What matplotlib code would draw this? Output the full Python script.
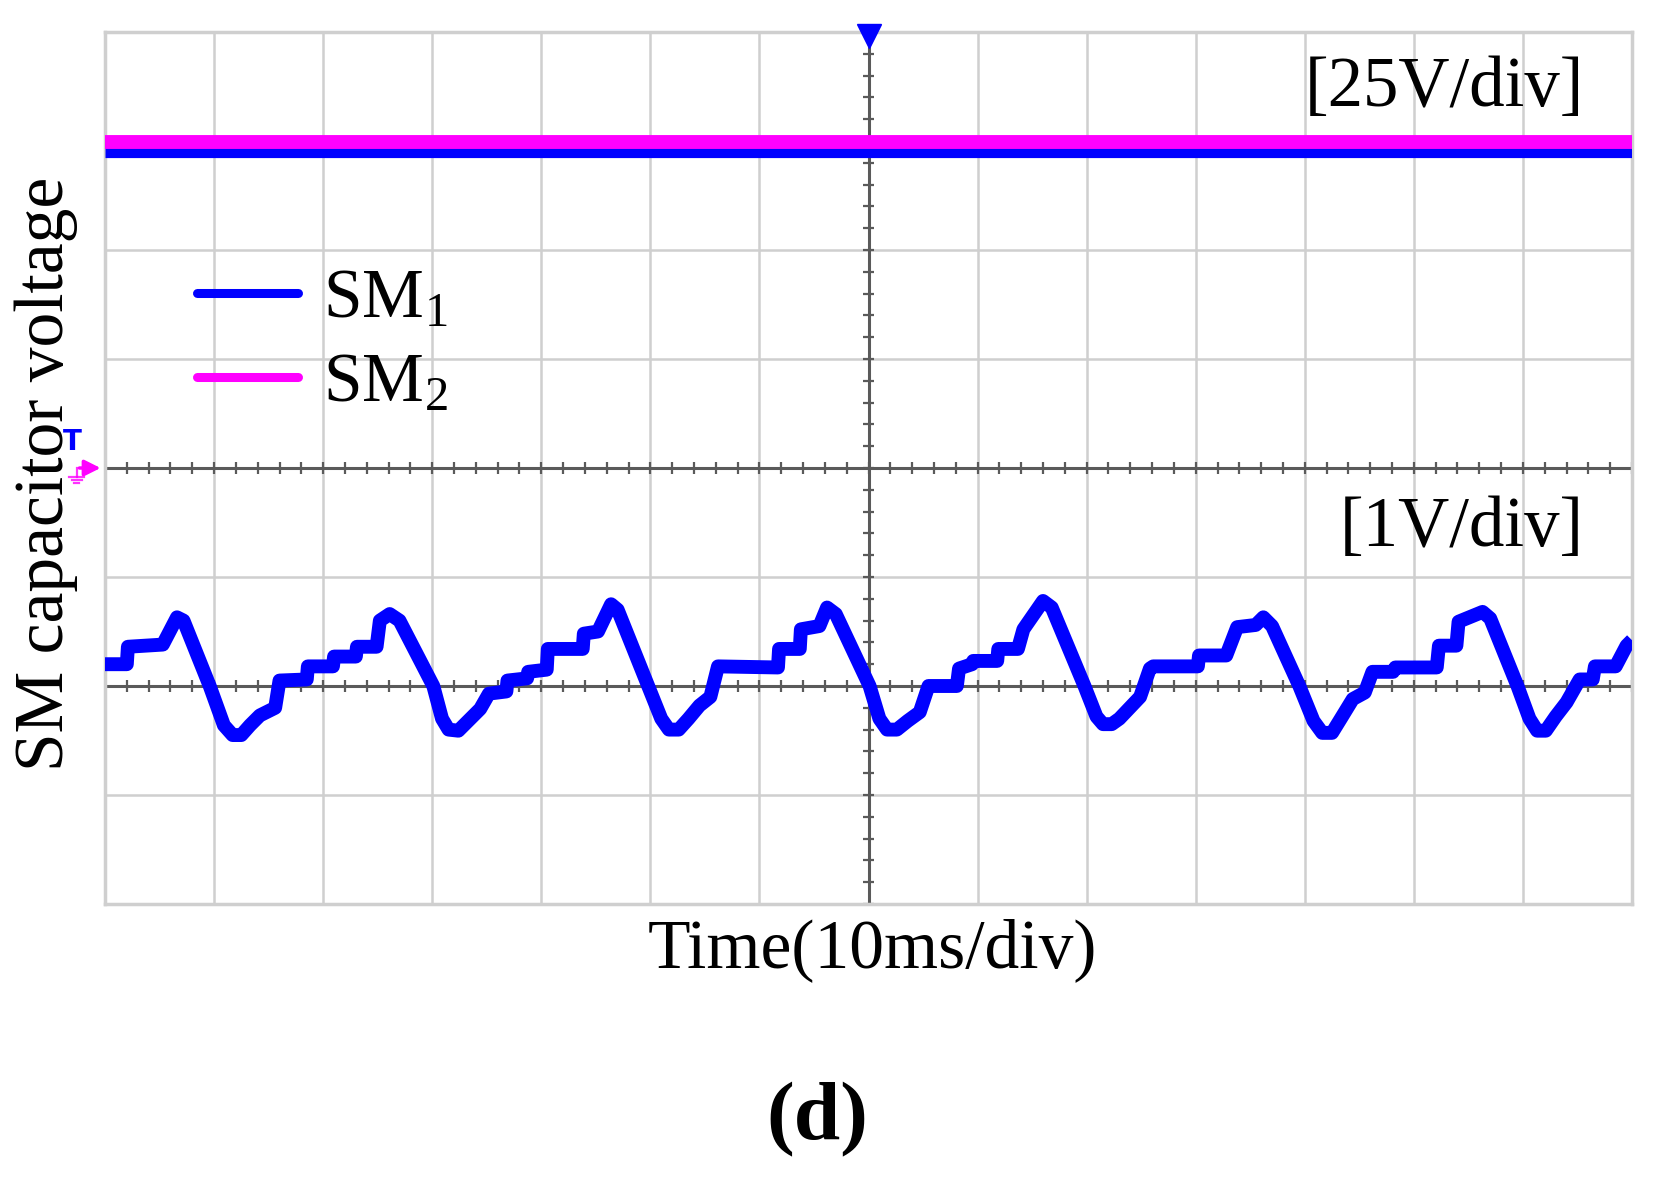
import numpy as np
import matplotlib
matplotlib.use("Agg")
import matplotlib.pyplot as plt
from matplotlib.lines import Line2D

plt.rcParams['font.family'] = ['Liberation Serif', 'DejaVu Serif']
plt.rcParams['mathtext.fontset'] = 'stix'

# scope settings
n_xdiv = 14
n_ydiv = 8
ms_per_div = 10

# upper channel (25V/div): both capacitor voltages sit flat, position in divisions
upper_t = [0, 140]
sm1_upper = [6.91, 6.91]
sm2_upper = [6.99, 6.99]

# lower channel (1V/div), SM1 ripple, volts relative to its zero line (at div 2)
lower_zero = 2
sm1_t = [0.0, 2.0, 2.1, 5.3, 6.6, 7.2, 9.6, 10.9, 11.7, 12.5, 13.3, 14.2, 15.6, 16.0,
         18.5, 18.6, 20.9, 21.0, 23.0, 23.1, 24.9, 25.2, 26.1, 27.0, 30.1, 30.9, 31.5,
         32.4, 33.3, 34.4, 35.2, 36.8, 36.9, 38.7, 38.8, 40.5, 40.6, 43.8, 43.9, 45.2,
         46.4, 47.0, 49.8, 51.0, 51.7, 52.6, 53.5, 54.5, 55.5, 56.2, 61.7, 61.8, 63.7,
         63.8, 65.5, 66.2, 67.0, 70.1, 71.0, 71.7, 72.6, 73.6, 74.7, 75.5, 78.1, 78.3,
         79.5, 79.6, 81.8, 81.9, 83.7, 84.2, 86.0, 86.8, 89.8, 90.9, 91.5, 92.3, 93.0,
         94.9, 95.8, 96.1, 100.2, 100.3, 102.8, 103.8, 105.5, 106.2, 107.0, 109.5,
         110.8, 111.6, 112.5, 113.3, 114.4, 115.5, 116.2, 118.1, 118.3, 122.1, 122.3,
         123.9, 124.1, 126.3, 127.0, 129.5, 130.6, 131.3, 132.1, 133.0, 134.0, 135.2,
         136.4, 136.6, 138.5, 139.5, 140.0]
sm1_v = [0.20, 0.20, 0.36, 0.38, 0.63, 0.60, 0.00, -0.36, -0.45, -0.45, -0.36, -0.27, -0.20, 0.05,
         0.06, 0.18, 0.18, 0.27, 0.27, 0.36, 0.36, 0.60, 0.66, 0.60, 0.00, -0.30, -0.40,
         -0.41, -0.32, -0.21, -0.07, -0.05, 0.05, 0.07, 0.13, 0.15, 0.34, 0.34, 0.48, 0.50,
         0.75, 0.70, 0.00, -0.30, -0.40, -0.40, -0.30, -0.18, -0.10, 0.18, 0.17, 0.34, 0.34,
         0.52, 0.55, 0.72, 0.66, 0.00, -0.30, -0.40, -0.40, -0.32, -0.24, 0.00, 0.00, 0.16,
         0.20, 0.23, 0.23, 0.34, 0.34, 0.52, 0.78, 0.72, 0.00, -0.28, -0.35, -0.35, -0.30,
         -0.10, 0.16, 0.18, 0.18, 0.28, 0.28, 0.54, 0.56, 0.63, 0.55, 0.00,
         -0.32, -0.43, -0.43, -0.30, -0.12, -0.06, 0.13, 0.13, 0.17, 0.17, 0.37,
         0.37, 0.59, 0.68, 0.62, 0.00, -0.30, -0.41, -0.41, -0.28, -0.15, 0.06,
         0.06, 0.18, 0.18, 0.37, 0.42]

grid_col = '#cfcfcf'
axis_col = '#5a5a5a'
blue = '#0000ff'
magenta = '#ff00ff'

fig = plt.figure(figsize=(16.73, 11.82), dpi=100)
ax = fig.add_axes([105 / 1673, 1 - 904 / 1182, 1527 / 1673, 872 / 1182])
xmax = n_xdiv * ms_per_div
ax.set_xlim(0, xmax)
ax.set_ylim(0, n_ydiv)
ax.set_xticks([])
ax.set_yticks([])
for s in ax.spines.values():
    s.set_color(grid_col)
    s.set_linewidth(2.5)

# graticule
for i in range(1, n_xdiv):
    ax.axvline(i * ms_per_div, color=grid_col, lw=1.8, zorder=1)
for j in range(1, n_ydiv):
    ax.axhline(j, color=grid_col, lw=1.8, zorder=1)

# dark centre axes with minor ticks
xc = xmax / 2
tick_h = 0.055
tick_w = 0.55
for yy in (4, lower_zero):
    ax.axhline(yy, color=axis_col, lw=2.2, zorder=2)
    ax.vlines(np.arange(0, xmax + 0.1, 2), yy - tick_h, yy + tick_h,
              color=axis_col, lw=1.6, zorder=2)
ax.axvline(xc, color=axis_col, lw=2.2, zorder=2)
ax.hlines(np.arange(0, n_ydiv + 0.01, 0.2), xc - tick_w, xc + tick_w,
          color=axis_col, lw=1.6, zorder=2)

# traces
ax.plot(upper_t, sm1_upper, color=blue, lw=9.5, solid_capstyle='butt', zorder=3)
ax.plot(upper_t, sm2_upper, color=magenta, lw=10, solid_capstyle='butt', zorder=4)
ax.plot(sm1_t, lower_zero + np.array(sm1_v), color=blue, lw=10,
        solid_joinstyle='round', solid_capstyle='butt', zorder=3)

# trigger marker at the top and ground/level markers on the left
ax.plot([xc], [n_ydiv - 0.04], marker='v', color=blue, markersize=17,
        clip_on=False, zorder=6)
ax.text(-3.0, 4.24, 'T', color=blue, fontsize=20, fontweight='bold',
        family='DejaVu Sans', ha='center', va='center', zorder=6)
ax.annotate('', xy=(-0.15, 4.0), xytext=(-2.6, 4.0),
            arrowprops=dict(arrowstyle='-|>', color=magenta, lw=2.5,
                            mutation_scale=24), annotation_clip=False)
# little ground symbol under the arrow tail
gx = -2.6
ax.plot([gx, gx], [4.0, 3.92], color=magenta, lw=1.6, alpha=0.8, clip_on=False)
for k, half in enumerate([0.7, 0.45, 0.2]):
    yy = 3.92 - 0.03 * k
    ax.plot([gx - half, gx + half], [yy, yy], color=magenta, lw=1.6,
            alpha=0.8, clip_on=False)

# legend
handles = [Line2D([], [], color=blue, lw=6.5, solid_capstyle='round'),
           Line2D([], [], color=magenta, lw=6.5, solid_capstyle='round')]
ax.legend(handles, [r'SM$_{\mathregular{1}}$', r'SM$_{\mathregular{2}}$'],
          loc='upper left', bbox_to_anchor=(0.042, 0.76), frameon=False,
          fontsize=50, handlelength=1.46, handletextpad=0.35, labelspacing=0.29,
          borderaxespad=0)

# channel scale labels
ax.text(0.9685, 0.935, '[25V/div]', transform=ax.transAxes, fontsize=51,
        ha='right', va='center')
ax.text(0.9685, 0.431, '[1V/div]', transform=ax.transAxes, fontsize=51,
        ha='right', va='center')

fig.text(46 / 1673, 1 - 474 / 1182, 'SM capacitor voltage', rotation=90,
         fontsize=50, ha='center', va='center')
fig.text(872 / 1673, 1 - 950 / 1182, 'Time(10ms/div)', fontsize=50,
         ha='center', va='center')
fig.text(817 / 1673, 1 - 1120 / 1182, '(d)', fontsize=60, fontweight='bold',
         ha='center', va='center')

fig.savefig('out.png', dpi=100, facecolor='white')
